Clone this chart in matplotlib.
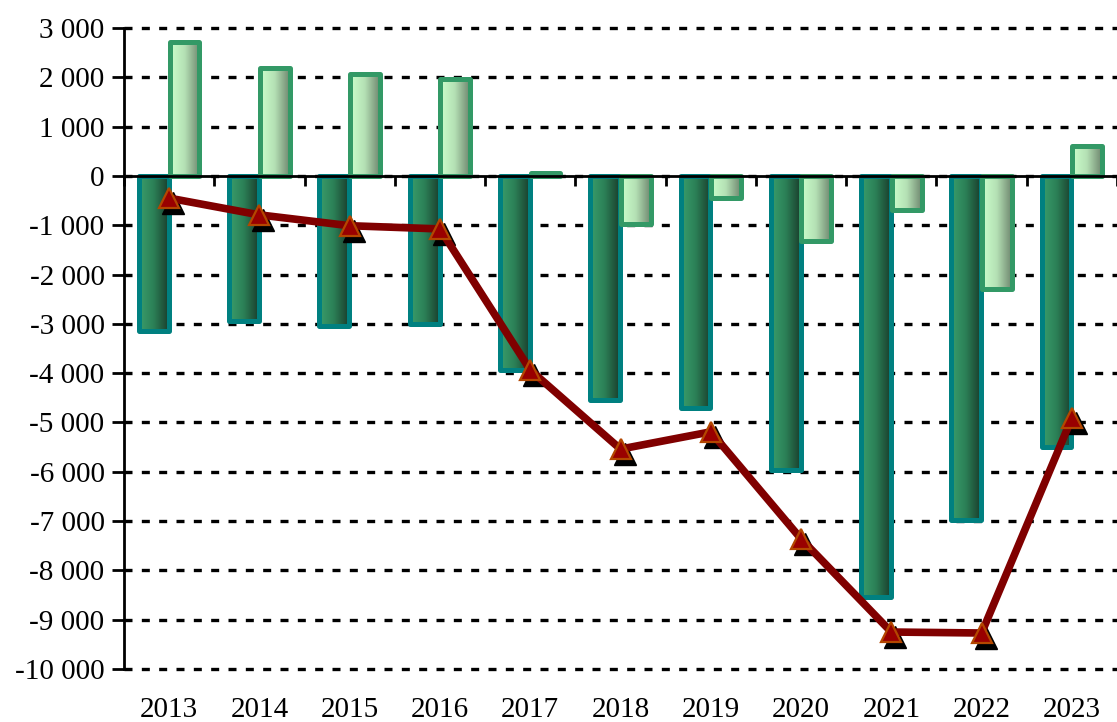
import numpy as np
import matplotlib
matplotlib.use("Agg")
import matplotlib.pyplot as plt
from matplotlib.colors import LinearSegmentedColormap
from matplotlib.transforms import offset_copy

plt.rcParams['font.family'] = ['Liberation Serif', 'DejaVu Serif']

years = ['2013', '2014', '2015', '2016', '2017', '2018', '2019', '2020', '2021', '2022', '2023']
dark_vals = [-3150, -2940, -3040, -3000, -3935, -4540, -4700, -5960, -8540, -6980, -5500]
light_vals = [2720, 2190, 2070, 1970, 60, -970, -450, -1320, -690, -2290, 610]
line_vals = [-450, -790, -1010, -1075, -3935, -5540, -5190, -7360, -9250, -9270, -4910]
yticks = list(range(-10000, 3001, 1000))

W, H = 1117, 722
fig = plt.figure(figsize=(W / 100, H / 100), dpi=100)
ax = fig.add_axes([124 / W, (H - 669) / H, (W - 124) / W, (669 - 28) / H])

x = np.arange(len(years))
bw = 0.33
off = 0.17

dark_cmap = LinearSegmentedColormap.from_list('dk', ['#3a9e6c', '#2b7f56', '#1a3d2c'])
light_cmap = LinearSegmentedColormap.from_list('lt', ['#ccffcc', '#b4e0b4', '#6e866e'])
grad = np.linspace(0, 1, 256).reshape(1, -1)


def gradient_bars(xs, vals, cmap, edge, z):
    bars = ax.bar(xs, vals, width=bw, facecolor='none', edgecolor=edge,
                  linewidth=3.6, joinstyle='round', zorder=z + 0.1)
    for b in bars:
        x0, y0 = b.get_x(), b.get_y()
        x1, y1 = x0 + b.get_width(), y0 + b.get_height()
        im = ax.imshow(grad, cmap=cmap, aspect='auto', extent=(x0, x1, y0, y1),
                       zorder=z, interpolation='bicubic')
        im.set_clip_path(b)
    return bars


gradient_bars(x - off, dark_vals, dark_cmap, '#008080', 2)
gradient_bars(x + off, light_vals, light_cmap, '#339966', 3)

# line with shadowed triangle markers
shadow = offset_copy(ax.transData, fig=fig, x=4, y=-5, units='dots')
ax.plot(x, line_vals, linestyle='none', marker='^', markersize=16,
        color='black', transform=shadow, zorder=4)
ax.plot(x, line_vals, color='#800000', linewidth=5.5, zorder=5)
ax.plot(x, line_vals, linestyle='none', marker='^', markersize=15,
        markerfacecolor='#990000', markeredgecolor='#b34700',
        markeredgewidth=1.6, zorder=6)

ax.set_xlim(-0.5, -0.5 + (W - 124) / 91)
ax.set_ylim(-10000, 3000)

ax.set_yticks(yticks)
ax.set_yticklabels([f"{v:,}".replace(',', ' ') for v in yticks], fontsize=21)
ax.yaxis.grid(True, color='black', linestyle=(0, (2.4, 2.8)), linewidth=2.4)
ax.set_axisbelow(True)
for gl in ax.yaxis.get_gridlines():
    gl.set_clip_on(False)
ax.tick_params(axis='y', direction='out', length=9, width=2, pad=5)

for s in ['top', 'right']:
    ax.spines[s].set_visible(False)
ax.spines['left'].set_linewidth(2)
ax.spines['bottom'].set_position(('data', 0))
ax.spines['bottom'].set_linewidth(2)
ax.spines['bottom'].set_zorder(7)

ax.set_xticks(np.arange(len(years) + 1) - 0.5)
ax.set_xticklabels([])
ax.tick_params(axis='x', direction='out', length=7, width=2)

sec = ax.secondary_xaxis('bottom')
sec.set_xticks(x)
sec.set_xticklabels(years, fontsize=21)
sec.tick_params(length=0, pad=20)
sec.spines['bottom'].set_visible(False)

fig.savefig('out.png', dpi=100)
